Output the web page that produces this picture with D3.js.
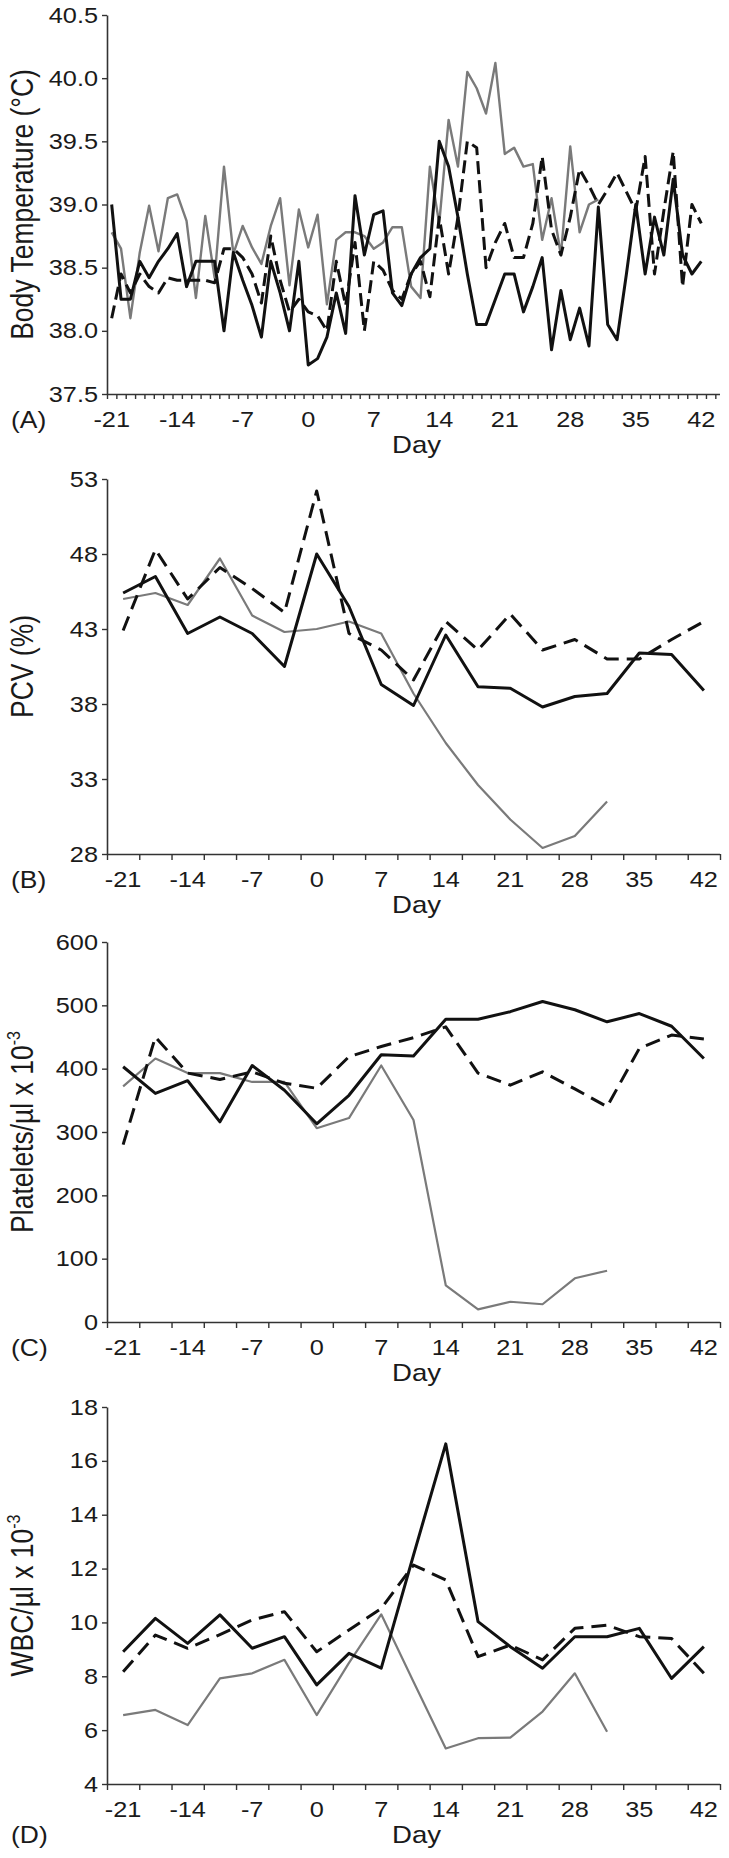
<!DOCTYPE html>
<html><head><meta charset="utf-8">
<script src="https://cdn.jsdelivr.net/npm/d3@7"></script>
<style>body{margin:0;background:#fff}svg{display:block}</style>
</head><body>
<svg id="c" width="729" height="1858"></svg>
<script>
// ---------- DATA ----------
// Panel A: daily body temperature, days -21..42
const daysA = d3.range(-21, 43);
const tempSolid = [39.00,38.25,38.25,38.55,38.42,38.55,38.65,38.77,38.35,38.55,38.55,38.55,38.00,38.62,38.40,38.20,37.95,38.55,38.30,38.00,38.55,37.73,37.78,37.95,38.30,37.98,39.07,38.60,38.92,38.95,38.30,38.20,38.45,38.58,38.65,39.50,39.30,38.90,38.45,38.05,38.05,38.25,38.45,38.45,38.15,38.35,38.58,37.85,38.32,37.93,38.18,37.88,38.98,38.05,37.93,38.45,39.00,38.45,38.90,38.60,39.20,38.60,38.45,38.55];
const tempDash = [38.10,38.45,38.30,38.45,38.35,38.30,38.42,38.40,38.40,38.40,38.40,38.38,38.65,38.65,38.58,38.45,38.22,38.75,38.40,38.15,38.25,38.15,38.12,38.00,38.55,38.20,38.70,38.00,38.55,38.48,38.32,38.25,38.45,38.55,38.27,38.90,38.45,38.90,39.50,39.45,38.50,38.70,38.85,38.58,38.58,38.85,39.38,38.80,38.60,38.90,39.28,39.15,39.00,39.12,39.25,39.10,38.95,39.38,38.45,38.95,39.42,38.35,39.00,38.85];
const tempGray = [38.78,38.65,38.10,38.62,38.99,38.63,39.05,39.08,38.87,38.26,38.91,38.42,39.30,38.61,38.83,38.66,38.53,38.83,39.05,38.36,38.96,38.66,38.92,38.21,38.72,38.78,38.78,38.75,38.65,38.70,38.82,38.82,38.35,38.26,39.30,38.85,39.67,39.30,40.05,39.92,39.72,40.12,39.40,39.45,39.30,39.32,38.72,39.05,38.60,39.46,38.78,39.00,39.04];

// Panels B-D: sampling days every 3.5 days
const daysB = d3.range(19).map(i => -21 + 3.5 * i);
const pcvSolid = [45.4,46.5,42.7,43.8,42.7,40.5,48.0,44.5,39.3,37.9,42.6,39.15,39.05,37.8,38.5,38.7,41.4,41.3,38.9];
const pcvDash  = [42.9,48.3,45.0,47.1,45.7,44.1,52.2,42.7,41.6,39.6,43.5,41.6,44.0,41.6,42.3,41.0,41.0,42.3,43.5];
const pcvGray  = [45.0,45.4,44.6,47.7,43.9,42.8,43.0,43.5,42.7,38.7,35.4,32.6,30.3,28.4,29.2,31.5];

const pltSolid = [403,361,381,316,405,366,313,358,422,420,478,478,490,506,493,474,487,467,416];
const pltDash  = [280,450,393,383,395,377,369,419,435,449,466,393,374,395,368,340,432,453,447];
const pltGray  = [372,416,393,393,379,379,306,322,405,319,58,20,32,28,69,81];

const wbcSolid = [8.91,10.15,9.22,10.28,9.04,9.47,7.68,8.85,8.30,12.5,16.63,10.03,9.10,8.30,9.47,9.47,9.78,7.92,9.10];
const wbcDash  = [8.17,9.53,9.04,9.55,10.09,10.40,8.91,9.72,10.52,12.13,11.58,8.73,9.16,8.61,9.78,9.90,9.47,9.40,8.11];
const wbcGray  = [6.56,6.75,6.19,7.92,8.11,8.61,6.56,8.50,10.30,7.80,5.32,5.70,5.72,6.69,8.11,5.94];

const xTickLabels = [-21,-14,-7,0,7,14,21,28,35,42];
const ticksA = [37.5,38.0,38.5,39.0,39.5,40.0,40.5];
const ticksB = [28,33,38,43,48,53];
const ticksC = [0,100,200,300,400,500,600];
const ticksD = [4,6,8,10,12,14,16,18];

// ---------- DRAWING ----------
const FONT = "'Liberation Sans', Arial, Helvetica, sans-serif";
const SX = 1.15; // horizontal stretch of the lettering seen in the original
const svg = d3.select("#c");
const X0 = 107, X1 = 720;
const AXIS = "#333";
const TXT = "#1a1a1a";

const xA = d3.scaleLinear().domain([-21.5, 44]).range([X0, X1]);
const xB = d3.scaleLinear().domain([-22.75, 43.75]).range([X0, X1]);

function pts(days, vals){ return vals.map((v,i)=>({d:days[i], v})); }
function label(g, x, y, txt, size, anchor){
  return g.append("text").attr("transform", `translate(${x},${y}) scale(${SX},1)`)
    .attr("text-anchor", anchor || "start").attr("font-family", FONT)
    .attr("font-size", size).attr("fill", TXT).text(txt);
}

const bnd = d3.range(20).map(i => -22.75 + 3.5 * i);
const panels = [
  {id:"A", x:xA, top:15, bot:394, dom:[37.5,40.5], ticks:ticksA, fmt:d3.format(".1f"),
   title:[{t:"Body Temperature (\u00B0C)"}], days:daysA, solid:tempSolid, dash:tempDash, gray:tempGray,
   boundaries:d3.range(-21.5, 44.01, 1), labelInDayRow:false},
  {id:"B", x:xB, top:479, bot:854, dom:[28,53], ticks:ticksB, fmt:d3.format("d"),
   title:[{t:"PCV (%)"}], days:daysB, solid:pcvSolid, dash:pcvDash, gray:pcvGray,
   boundaries:bnd, labelInDayRow:false},
  {id:"C", x:xB, top:942, bot:1322, dom:[0,600], ticks:ticksC, fmt:d3.format("d"),
   title:[{t:"Platelets/\u00B5l x 10"},{t:"-3",sup:true}], days:daysB, solid:pltSolid, dash:pltDash, gray:pltGray,
   boundaries:bnd, labelInDayRow:false},
  {id:"D", x:xB, top:1407, bot:1784, dom:[4,18], ticks:ticksD, fmt:d3.format("d"),
   title:[{t:"WBC/\u00B5l x 10"},{t:"-3",sup:true}], days:daysB, solid:wbcSolid, dash:wbcDash, gray:wbcGray,
   boundaries:bnd, labelInDayRow:true}
];

panels.forEach(p => {
  const g = svg.append("g");
  const x = p.x;
  const y = d3.scaleLinear().domain(p.dom).range([p.bot, p.top]);

  // y axis
  const ya = g.append("g").attr("transform", `translate(${X0},0)`)
    .call(d3.axisLeft(y).tickValues(p.ticks).tickFormat(p.fmt).tickSize(5).tickSizeOuter(0).tickPadding(4));
  ya.select(".domain").attr("stroke", AXIS).attr("stroke-width", 1.6);
  ya.selectAll(".tick line").attr("stroke", AXIS).attr("stroke-width", 1.4);
  ya.selectAll(".tick text").attr("x", 0).attr("transform", `translate(-9,0) scale(${SX},1)`)
    .attr("font-family", FONT).attr("font-size", 22).attr("fill", TXT);

  // x axis (ticks at category boundaries)
  const xa = g.append("g").attr("transform", `translate(0,${p.bot})`)
    .call(d3.axisBottom(x).tickValues(p.boundaries).tickFormat("").tickSize(p.id==="A"?5:6).tickSizeOuter(0));
  xa.select(".domain").attr("d", `M${X0},0.5H${X1}`).attr("stroke", AXIS).attr("stroke-width", 1.6);
  xa.selectAll(".tick line").attr("stroke", AXIS).attr("stroke-width", 1.4);

  // x tick labels
  xTickLabels.forEach(d => label(g, x(d), p.bot + 33, d, 22, "middle"));

  // "Day"
  label(g, (X0 + X1) / 2 + 3, p.bot + 59, "Day", 24, "middle");

  // panel letter
  label(g, 11, p.labelInDayRow ? p.bot + 59 : p.bot + 34, `(${p.id})`, 23);

  // y title
  const t = g.append("text")
    .attr("transform", `translate(33,${(p.top + p.bot) / 2}) rotate(-90) scale(1,${SX})`)
    .attr("text-anchor", "middle").attr("font-family", FONT).attr("font-size", 26.5).attr("fill", TXT);
  p.title.forEach(s => {
    const ts = t.append("tspan").text(s.t);
    if (s.sup) ts.attr("font-size", 16).attr("dy", -11);
  });

  // lines
  const line = d3.line().x(d => x(d.d)).y(d => y(d.v));
  g.append("path").datum(pts(p.days, p.gray)).attr("d", line)
    .attr("fill", "none").attr("stroke", "#7a7a7a").attr("stroke-width", p.id==="A"?2.4:2.2)
    .attr("stroke-linejoin", "round");
  g.append("path").datum(pts(p.days, p.dash)).attr("d", line)
    .attr("fill", "none").attr("stroke", "#111").attr("stroke-width", 3)
    .attr("stroke-dasharray", p.id==="A" ? "13,6" : "15,8").attr("stroke-linejoin", "round");
  g.append("path").datum(pts(p.days, p.solid)).attr("d", line)
    .attr("fill", "none").attr("stroke", "#111").attr("stroke-width", 3)
    .attr("stroke-linejoin", "round");
});
</script>
</body></html>
